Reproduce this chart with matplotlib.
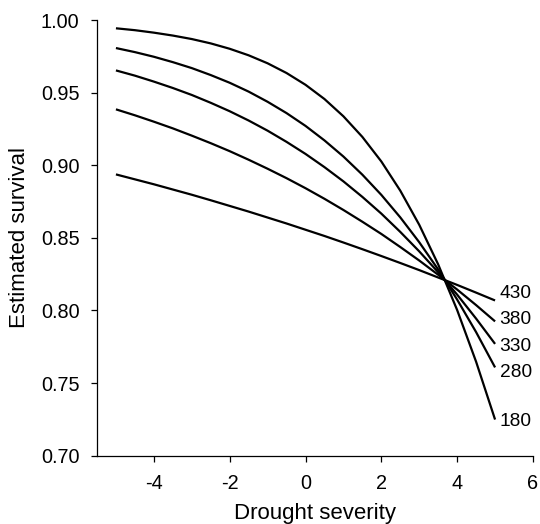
import matplotlib
matplotlib.use("Agg")
import matplotlib.pyplot as plt
from matplotlib.ticker import FuncFormatter

plt.rcParams['font.family'] = ['Liberation Sans', 'DejaVu Sans']

x = [-5.0, -4.5, -4.0, -3.5, -3.0, -2.5, -2.0, -1.5, -1.0, -0.5, 0.0,
     0.5, 1.0, 1.5, 2.0, 2.5, 3.0, 3.5, 4.0, 4.5, 5.0]

s180 = [0.9943, 0.9930, 0.9913, 0.9893, 0.9869, 0.9839, 0.9802, 0.9757, 0.9702, 0.9635, 0.9554,
        0.9456, 0.9337, 0.9195, 0.9026, 0.8825, 0.8590, 0.8317, 0.8003, 0.7647, 0.7249]
s280 = [0.9807, 0.9779, 0.9747, 0.9710, 0.9669, 0.9621, 0.9568, 0.9507, 0.9437, 0.9359, 0.9271,
        0.9171, 0.9060, 0.8935, 0.8796, 0.8641, 0.8470, 0.8282, 0.8075, 0.7851, 0.7608]
s330 = [0.9653, 0.9617, 0.9576, 0.9532, 0.9484, 0.9430, 0.9372, 0.9308, 0.9238, 0.9161, 0.9078,
        0.8987, 0.8889, 0.8782, 0.8667, 0.8541, 0.8407, 0.8263, 0.8109, 0.7944, 0.7770]
s380 = [0.9385, 0.9344, 0.9300, 0.9254, 0.9204, 0.9152, 0.9097, 0.9038, 0.8976, 0.8911, 0.8842,
        0.8769, 0.8692, 0.8611, 0.8527, 0.8437, 0.8344, 0.8246, 0.8144, 0.8037, 0.7925]
s430 = [0.8937, 0.8903, 0.8869, 0.8833, 0.8797, 0.8759, 0.8720, 0.8681, 0.8640, 0.8599, 0.8556,
        0.8513, 0.8468, 0.8422, 0.8375, 0.8327, 0.8278, 0.8227, 0.8176, 0.8123, 0.8069]

series = [s430, s380, s330, s280, s180]
labels = ["430", "380", "330", "280", "180"]
label_y = [0.8120, 0.7939, 0.7755, 0.7571, 0.7233]

xticks = [-4, -2, 0, 2, 4, 6]
yticks = [0.70, 0.75, 0.80, 0.85, 0.90, 0.95, 1.00]

fig = plt.figure(figsize=(5.40, 5.24), dpi=100)
ax = fig.add_axes([0.1796, 0.1303, 0.8074, 0.8315])

for s, lab, ly in zip(series, labels, label_y):
    ax.plot(x, s, color='black', lw=1.6, solid_capstyle='butt')
    ax.text(5.12, ly, lab, fontsize=13.8, va='center', ha='left')

ax.set_xlim(-5.5, 6)
ax.set_ylim(0.70, 1.00)
ax.set_xticks(xticks)
ax.set_yticks(yticks)
ax.xaxis.set_major_formatter(FuncFormatter(lambda v, p: f"{v:g}".replace('\u2212', '-')))
ax.yaxis.set_major_formatter(FuncFormatter(lambda v, p: f"{v:.2f}"))
ax.tick_params(labelsize=14.3, direction='out', length=4.5, width=0.9)
ax.tick_params(axis='y', pad=8)
ax.tick_params(axis='x', pad=9)
for side in ['top', 'right']:
    ax.spines[side].set_visible(False)
for side in ['left', 'bottom']:
    ax.spines[side].set_linewidth(0.9)
ax.set_xlabel("Drought severity", fontsize=16, labelpad=6.5)
ax.set_ylabel("Estimated survival", fontsize=16, labelpad=8)

fig.savefig("out.png", dpi=100)
